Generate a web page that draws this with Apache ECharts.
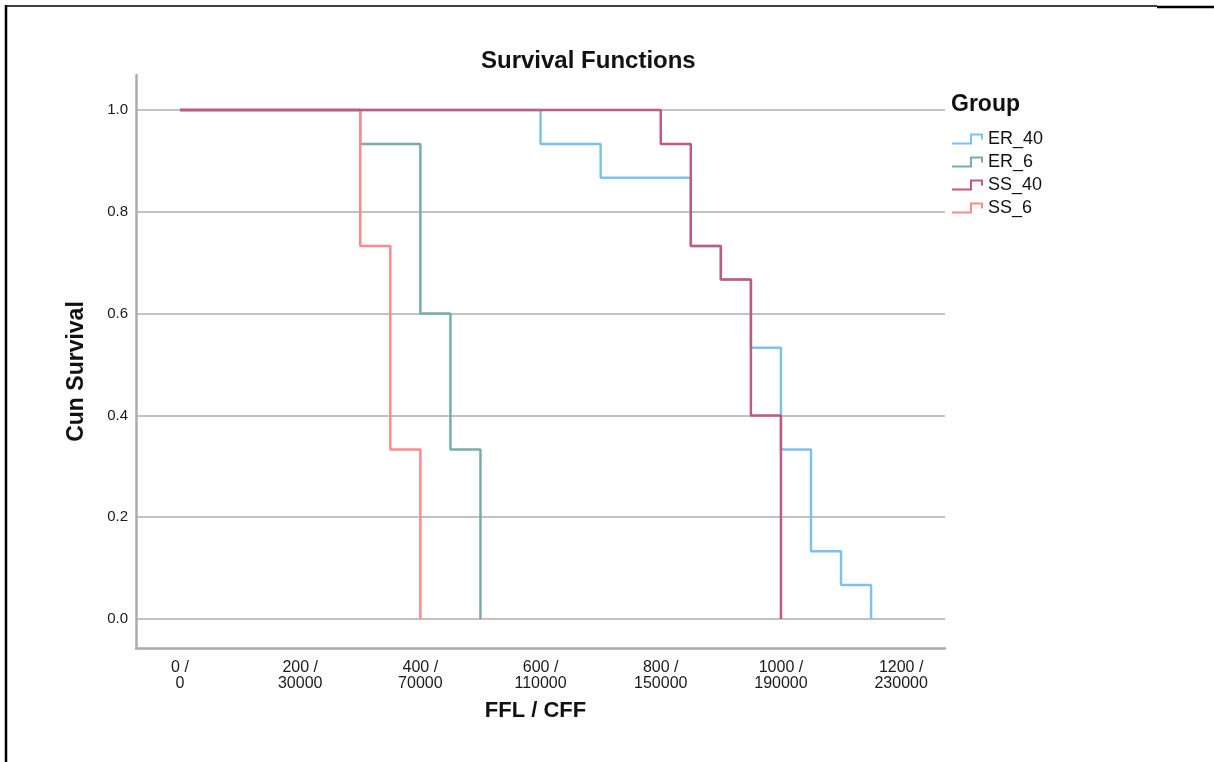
<!DOCTYPE html>
<html>
<head>
<meta charset="utf-8">
<script src="https://cdn.jsdelivr.net/npm/echarts@6/dist/echarts.min.js"></script>
<style>
html,body{margin:0;padding:0;background:#fff;}
#chart{width:1214px;height:762px;}
</style>
</head>
<body>
<div id="chart"></div>
<script>
// ---- data ----
const groups = ['ER_40', 'ER_6', 'SS_40', 'SS_6'];
const er40Time = [0, 600, 700, 850, 900, 950, 1000, 1050, 1100, 1150];
const er40Surv = [1, 0.933, 0.867, 0.733, 0.667, 0.533, 0.333, 0.133, 0.067, 0];
const er6Time = [0, 300, 400, 450, 500];
const er6Surv = [1, 0.933, 0.6, 0.333, 0];
const ss40Time = [0, 800, 850, 900, 950, 1000];
const ss40Surv = [1, 0.933, 0.733, 0.667, 0.4, 0];
const ss6Time = [0, 300, 350, 400];
const ss6Surv = [1, 0.733, 0.333, 0];
const xTickValues = [0, 200, 400, 600, 800, 1000, 1200];
const cffLabels = ['0', '30000', '70000', '110000', '150000', '190000', '230000'];
const yTickValues = [0, 0.2, 0.4, 0.6, 0.8, 1.0];

// ---- styles ----
const colors = {ER_40: '#7fc1ee', ER_6: '#79adab', SS_40: '#c15a81', SS_6: '#fc8a8e'};
const zOrder = {ER_40: 2, ER_6: 3, SS_40: 5, SS_6: 4};
const FONT = 'Liberation Sans, Arial, sans-serif';
const stepIcon = 'path://M0,9L18,9L18,0L31,0L31,6L29,6L29,2L20,2L20,11L0,11Z';

function pairs(t, s) { return t.map((v, i) => [v, s[i]]); }
const seriesData = {
  ER_40: pairs(er40Time, er40Surv),
  ER_6: pairs(er6Time, er6Surv),
  SS_40: pairs(ss40Time, ss40Surv),
  SS_6: pairs(ss6Time, ss6Surv)
};

const chart = echarts.init(document.getElementById('chart'), null, {renderer: 'canvas'});
const option = {
  animation: false,
  backgroundColor: '#ffffff',
  title: [
    {text: 'Survival Functions', left: 481, top: 49, padding: 0,
     textStyle: {fontFamily: FONT, fontSize: 24, fontWeight: 'bold', color: '#111'}},
    {text: 'Group', left: 951, top: 93, padding: 0,
     textStyle: {fontFamily: FONT, fontSize: 23, fontWeight: 'bold', color: '#111'}}
  ],
  legend: {
    orient: 'vertical', left: 952, top: 130, padding: 0,
    itemWidth: 31, itemHeight: 11, itemGap: 5, itemTextGap: 5,
    icon: stepIcon,
    itemStyle: {borderWidth: 0},
    textStyle: {fontFamily: FONT, fontSize: 18, color: '#111', lineHeight: 18},
    data: groups
  },
  grid: {left: 136, right: 269, top: 75, bottom: 114, containLabel: false},
  xAxis: {
    type: 'value', min: -73.2, max: 1273,
    name: 'FFL / CFF', nameLocation: 'middle', nameGap: 52,
    nameTextStyle: {fontFamily: FONT, fontSize: 22, fontWeight: 'bold', color: '#111', padding: [0, 10, 0, 0]},
    axisLine: {show: true, onZero: false, lineStyle: {color: '#acacac', width: 2.5}},
    axisTick: {show: false, customValues: xTickValues},
    splitLine: {show: false},
    axisLabel: {
      customValues: xTickValues, margin: 12,
      fontFamily: FONT, fontSize: 16, color: '#1a1a1a', lineHeight: 16,
      formatter: function (v) {
        const i = xTickValues.indexOf(v);
        return v + ' /\n' + (i >= 0 ? cffLabels[i] : '');
      }
    }
  },
  yAxis: {
    type: 'value', min: -0.057, max: 1.0688,
    name: 'Cun Survival', nameLocation: 'middle', nameGap: 48, nameRotate: 90,
    nameTextStyle: {fontFamily: FONT, fontSize: 23, fontWeight: 'bold', color: '#111', padding: [0, 20, 0, 0]},
    axisLine: {show: true, onZero: false, lineStyle: {color: '#acacac', width: 2.5}},
    axisTick: {show: false, customValues: yTickValues},
    splitLine: {show: true, lineStyle: {color: '#c2c2c2', width: 2}},
    axisLabel: {
      customValues: yTickValues, margin: 8,
      fontFamily: FONT, fontSize: 15, color: '#1a1a1a',
      formatter: function (v) { return v.toFixed(1); }
    }
  },
  series: groups.map(g => ({
    name: g, type: 'line', step: 'end', symbol: 'none', z: zOrder[g],
    data: seriesData[g],
    itemStyle: {color: colors[g]},
    lineStyle: {color: colors[g], width: 2.5},
    emphasis: {disabled: true}
  })),
  graphic: [
    {type: 'line', shape: {x1: 6, y1: 6, x2: 1157, y2: 6}, style: {stroke: '#000', lineWidth: 1.5}},
    {type: 'line', shape: {x1: 1157, y1: 7, x2: 1214, y2: 7}, style: {stroke: '#000', lineWidth: 2.5}},
    {type: 'line', shape: {x1: 6, y1: 5, x2: 6, y2: 762}, style: {stroke: '#000', lineWidth: 2.5}}
  ]
};
chart.setOption(option);
</script>
</body>
</html>
